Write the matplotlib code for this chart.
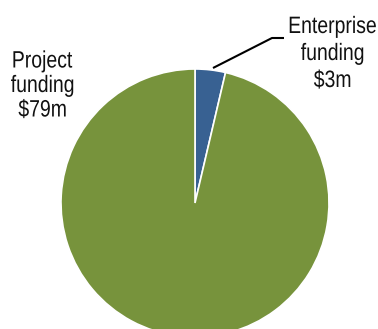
import matplotlib.pyplot as plt
from matplotlib.font_manager import FontProperties
from matplotlib.textpath import TextPath
from matplotlib.patches import PathPatch
from matplotlib.transforms import Affine2D

labels = ["Enterprise\nfunding\n$3m", "Project\nfunding\n$79m"]
values = [3, 79]
colors = ["#386192", "#77933C"]

W, H = 378, 329
fig = plt.figure(figsize=(W / 100, H / 100), dpi=100)
ax = fig.add_axes([0, 0, 1, 1])

cx, cy, r = 195, H - 203, 134
ax.pie(values, colors=colors, startangle=90, counterclock=False,
       center=(cx, cy), radius=r, explode=[0.015, 0],
       wedgeprops=dict(edgecolor="white", linewidth=1.2), frame=True)
ax.set_xlim(0, W)
ax.set_ylim(0, H)
ax.set_aspect("equal")
ax.axis("off")

# narrow sans: Liberation Sans squeezed horizontally
prop = FontProperties(family="Liberation Sans")
size, squeeze = 23.7, 0.82


def narrow_text(x_center, baselines, text):
    for line, base in zip(text.split("\n"), baselines):
        tp = TextPath((0, 0), line, size=size, prop=prop)
        ext = tp.get_extents()
        w = ext.x1 * squeeze
        tr = Affine2D().scale(squeeze, 1).translate(x_center - w / 2, H - base)
        ax.add_patch(PathPatch(tr.transform_path(tp), color="#111111", lw=0))


# leader line for the small slice
ax.plot([213, 272, 284], [H - 68, H - 38, H - 38], color="black", lw=1.5,
        solid_capstyle="butt")

narrow_text(332, [33, 60, 87], labels[0])
narrow_text(42, [67.5, 92, 116.5], labels[1])

fig.savefig("out.png", dpi=100)
